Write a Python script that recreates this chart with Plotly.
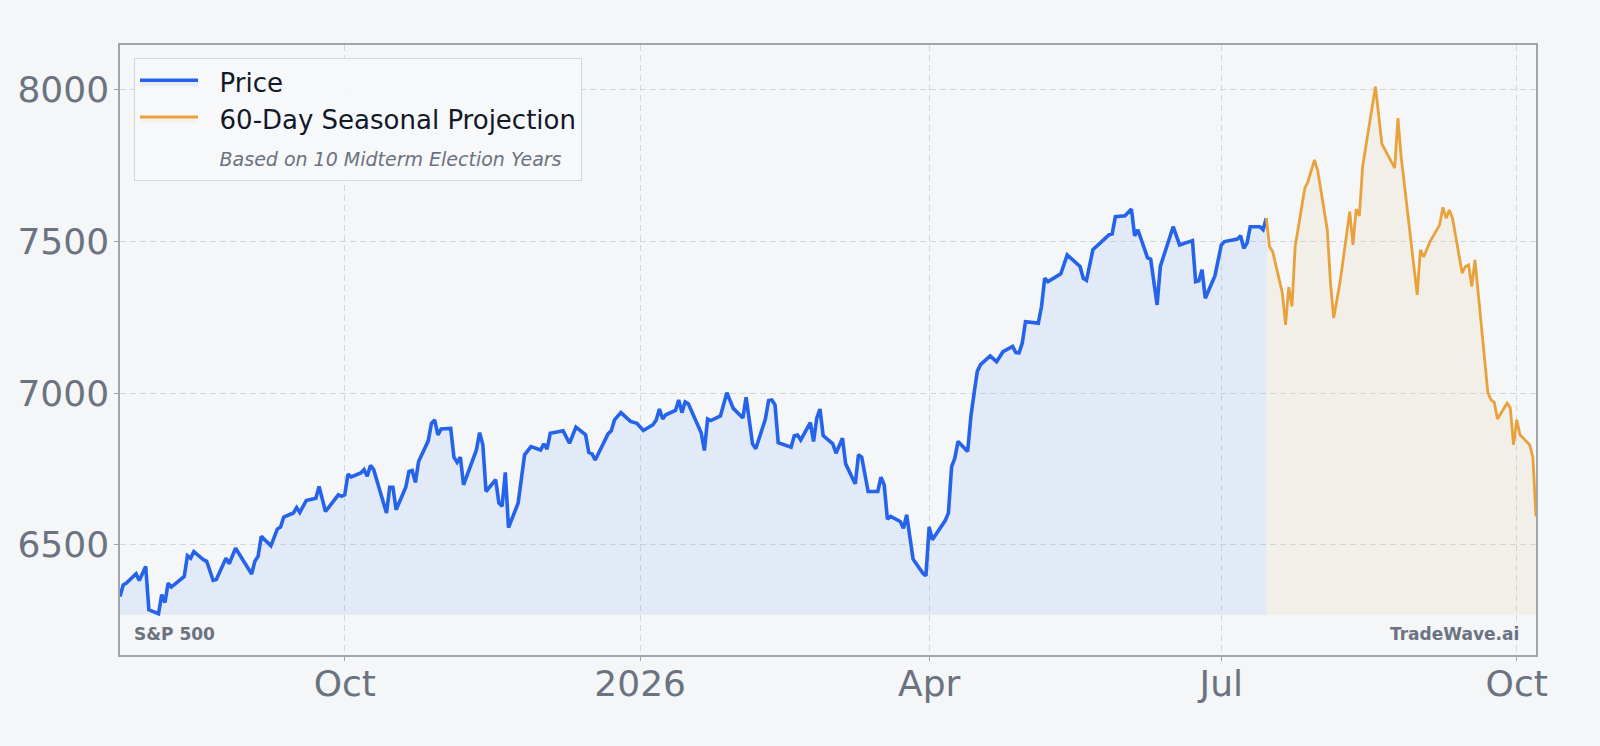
import plotly.graph_objects as go

price_dates = [
    "2025-07-23", "2025-07-24", "2025-07-25", "2025-07-28", "2025-07-29", "2025-07-31",
    "2025-08-01", "2025-08-04", "2025-08-05", "2025-08-06", "2025-08-07", "2025-08-08",
    "2025-08-12", "2025-08-13", "2025-08-14", "2025-08-15", "2025-08-18", "2025-08-19",
    "2025-08-21", "2025-08-22", "2025-08-25", "2025-08-26", "2025-08-28", "2025-09-02",
    "2025-09-03", "2025-09-04", "2025-09-05", "2025-09-08", "2025-09-10", "2025-09-11",
    "2025-09-12", "2025-09-15", "2025-09-16", "2025-09-17", "2025-09-19", "2025-09-22",
    "2025-09-23", "2025-09-25", "2025-09-29", "2025-09-30", "2025-10-01", "2025-10-02",
    "2025-10-03", "2025-10-06", "2025-10-07", "2025-10-08", "2025-10-09", "2025-10-10",
    "2025-10-14", "2025-10-15", "2025-10-16", "2025-10-17", "2025-10-20", "2025-10-21",
    "2025-10-22", "2025-10-23", "2025-10-24", "2025-10-27", "2025-10-28", "2025-10-29",
    "2025-10-30", "2025-10-31", "2025-11-03", "2025-11-04", "2025-11-05", "2025-11-06",
    "2025-11-07", "2025-11-11", "2025-11-12", "2025-11-13", "2025-11-14", "2025-11-17",
    "2025-11-18", "2025-11-19", "2025-11-20", "2025-11-21", "2025-11-24", "2025-11-26",
    "2025-11-28", "2025-12-01", "2025-12-02", "2025-12-03", "2025-12-04", "2025-12-08",
    "2025-12-10", "2025-12-12", "2025-12-15", "2025-12-16", "2025-12-17", "2025-12-18",
    "2025-12-22", "2025-12-23", "2025-12-24", "2025-12-26", "2025-12-29", "2025-12-31",
    "2026-01-02", "2026-01-05", "2026-01-06", "2026-01-07", "2026-01-08", "2026-01-09",
    "2026-01-12", "2026-01-13", "2026-01-14", "2026-01-15", "2026-01-16", "2026-01-20",
    "2026-01-21", "2026-01-22", "2026-01-23", "2026-01-26", "2026-01-28", "2026-01-30",
    "2026-02-02", "2026-02-03", "2026-02-05", "2026-02-06", "2026-02-09", "2026-02-10",
    "2026-02-11", "2026-02-12", "2026-02-13", "2026-02-17", "2026-02-18", "2026-02-19",
    "2026-02-20", "2026-02-23", "2026-02-24", "2026-02-25", "2026-02-26", "2026-02-27",
    "2026-03-02", "2026-03-03", "2026-03-05", "2026-03-06", "2026-03-09", "2026-03-10",
    "2026-03-11", "2026-03-13", "2026-03-16", "2026-03-17", "2026-03-18", "2026-03-19",
    "2026-03-20", "2026-03-23", "2026-03-24", "2026-03-25", "2026-03-27", "2026-03-30",
    "2026-03-31", "2026-04-01", "2026-04-02", "2026-04-06", "2026-04-07", "2026-04-08",
    "2026-04-09", "2026-04-10", "2026-04-13", "2026-04-14", "2026-04-15", "2026-04-16",
    "2026-04-17", "2026-04-20", "2026-04-22", "2026-04-24", "2026-04-27", "2026-04-28",
    "2026-04-29", "2026-04-30", "2026-05-01", "2026-05-05", "2026-05-06", "2026-05-07",
    "2026-05-08", "2026-05-12", "2026-05-14", "2026-05-18", "2026-05-19", "2026-05-20",
    "2026-05-22", "2026-05-27", "2026-05-28", "2026-05-29", "2026-06-01", "2026-06-03",
    "2026-06-04", "2026-06-05", "2026-06-08", "2026-06-09", "2026-06-11", "2026-06-12",
    "2026-06-16", "2026-06-18", "2026-06-22", "2026-06-23", "2026-06-24", "2026-06-25",
    "2026-06-26", "2026-06-29", "2026-07-01", "2026-07-02", "2026-07-06", "2026-07-07",
    "2026-07-08", "2026-07-09", "2026-07-10", "2026-07-13", "2026-07-14", "2026-07-15",
]
price_values = [
    6330, 6368, 6374, 6405, 6383, 6429,
    6286, 6273, 6336, 6310, 6374, 6361,
    6396, 6464, 6456, 6478, 6451, 6446,
    6383, 6386, 6456, 6438, 6489, 6404,
    6446, 6462, 6528, 6497, 6552, 6559,
    6592, 6605, 6623, 6607, 6646, 6654,
    6693, 6610, 6665, 6660, 6665, 6733,
    6724, 6737, 6748, 6726, 6762, 6748,
    6605, 6690, 6690, 6616, 6690, 6742,
    6745, 6706, 6775, 6843, 6901, 6912,
    6863, 6882, 6884, 6789, 6772, 6789,
    6698, 6813, 6870, 6830, 6676, 6715,
    6638, 6627, 6739, 6557, 6638, 6797,
    6824, 6813, 6833, 6816, 6868, 6876,
    6835, 6888, 6863, 6805, 6800, 6780,
    6866, 6876, 6912, 6936, 6907, 6901,
    6877, 6896, 6912, 6948, 6915, 6929,
    6943, 6978, 6936, 6971, 6965, 6870,
    6811, 6915, 6910, 6925, 7002, 6950,
    6918, 6987, 6833, 6817, 6915, 6976,
    6978, 6962, 6837, 6822, 6860, 6862,
    6846, 6903, 6841, 6918, 6948, 6860,
    6833, 6802, 6852, 6767, 6701, 6797,
    6789, 6676, 6676, 6723, 6698, 6585,
    6594, 6577, 6555, 6599, 6453, 6407,
    6398, 6559, 6517, 6580, 6605, 6758,
    6786, 6841, 6808, 6923, 7000, 7072,
    7094, 7123, 7104, 7137, 7154, 7134,
    7133, 7165, 7236, 7231, 7286, 7379,
    7368, 7394, 7456, 7418, 7379, 7372,
    7473, 7522, 7525, 7582, 7585, 7607,
    7519, 7539, 7447, 7442, 7291, 7418,
    7549, 7489, 7503, 7368, 7371, 7407,
    7313, 7387, 7489, 7500, 7508, 7519,
    7478, 7495, 7549, 7549, 7539, 7577,
]

proj_dates = [
    "2026-07-15", "2026-07-16", "2026-07-17", "2026-07-20", "2026-07-21", "2026-07-22",
    "2026-07-23", "2026-07-24", "2026-07-27", "2026-07-28", "2026-07-30", "2026-07-31",
    "2026-08-03", "2026-08-04", "2026-08-05", "2026-08-07", "2026-08-10", "2026-08-11",
    "2026-08-12", "2026-08-13", "2026-08-14", "2026-08-18", "2026-08-20", "2026-08-24",
    "2026-08-25", "2026-08-26", "2026-08-31", "2026-09-01", "2026-09-02", "2026-09-04",
    "2026-09-07", "2026-09-08", "2026-09-09", "2026-09-10", "2026-09-11", "2026-09-14",
    "2026-09-15", "2026-09-16", "2026-09-17", "2026-09-18", "2026-09-22", "2026-09-23",
    "2026-09-24", "2026-09-25", "2026-09-28", "2026-09-29", "2026-09-30", "2026-10-01",
    "2026-10-02", "2026-10-05", "2026-10-06", "2026-10-07",
]
proj_values = [
    7577, 7484, 7467, 7330, 7225, 7350,
    7286, 7484, 7676, 7698, 7769, 7734,
    7539, 7363, 7248, 7368, 7599, 7489,
    7607, 7585, 7747, 8011, 7822, 7742,
    7907, 7780, 7324, 7473, 7449, 7500,
    7555, 7613, 7577, 7604, 7577, 7396,
    7418, 7423, 7352, 7440, 7002, 6978,
    6970, 6915, 6967, 6951, 6830, 6912,
    6863, 6830, 6791, 6594,
]

fill_base = 6270
y_range = [6137, 8148]
x_range = ["2025-07-23", "2026-10-07"]
x_tick_vals = ["2025-10-01", "2026-01-01", "2026-04-01", "2026-07-01", "2026-10-01"]
x_tick_text = ["Oct", "2026", "Apr", "Jul", "Oct"]
y_tick_vals = [6500, 7000, 7500, 8000]

BG = "#f4f6f8"
BLUE = "#2563eb"
ORANGE = "#e9a23b"
GREY = "#6b7280"
FONT = "DejaVu Sans"
GRID = "#d3d7dd"
GAP = "\u00a0\u00a0"

fig = go.Figure()

fig.add_trace(go.Scatter(
    x=price_dates, y=[fill_base] * len(price_dates), mode="lines",
    line=dict(width=0, color="rgba(0,0,0,0)"), showlegend=False, hoverinfo="skip"))
fig.add_trace(go.Scatter(
    x=price_dates, y=price_values, mode="lines", name=GAP + "Price",
    line=dict(color=BLUE, width=3.6), fill="tonexty",
    fillcolor="rgba(37,120,235,0.09)"))

fig.add_trace(go.Scatter(
    x=proj_dates, y=[fill_base] * len(proj_dates), mode="lines",
    line=dict(width=0, color="rgba(0,0,0,0)"), showlegend=False, hoverinfo="skip"))
fig.add_trace(go.Scatter(
    x=proj_dates, y=proj_values, mode="lines", name=GAP + "60-Day Seasonal Projection",
    line=dict(color=ORANGE, width=2.8), fill="tonexty",
    fillcolor="rgba(233,162,59,0.08)"))

fig.add_trace(go.Scatter(
    x=[None], y=[None], mode="lines",
    line=dict(color="rgba(0,0,0,0)", width=0),
    name=GAP + "<span style='font-size:19px;color:#6b7280'><i>Based on 10 Midterm Election Years</i></span>"))

axis_common = dict(
    tickfont=dict(family=FONT, size=36, color=GREY),
    ticks="outside", ticklen=4, tickcolor="#9ca3af",
    showgrid=True, gridcolor=GRID, griddash="6px,4px", gridwidth=1,
    showline=True, linecolor="#a0a5ad", linewidth=1.5, mirror=True,
    zeroline=False,
)

fig.update_layout(
    width=1600, height=746,
    paper_bgcolor=BG, plot_bgcolor=BG,
    margin=dict(l=120, r=64, t=45, b=91),
    font=dict(family=FONT, color=GREY),
    showlegend=True,
    legend=dict(
        x=0.0099, y=0.979, xanchor="left", yanchor="top",
        bgcolor="rgba(247,248,250,0.9)", bordercolor="#d3d7dc", borderwidth=1,
        font=dict(family=FONT, size=26, color="#111827"),
        itemwidth=58, traceorder="normal",
    ),
    xaxis=dict(
        type="date", range=x_range,
        tickvals=x_tick_vals, ticktext=x_tick_text,
        ticklabelstandoff=-8,
        **axis_common,
    ),
    yaxis=dict(
        range=y_range, tickvals=y_tick_vals,
        ticklabelstandoff=-2,
        **axis_common,
    ),
    annotations=[
        dict(text="<b>S&P 500</b>", xref="paper", yref="paper", x=0.0085, y=0.034,
             xanchor="left", yanchor="middle", showarrow=False,
             font=dict(family=FONT, size=17, color=GREY)),
        dict(text="<b>TradeWave.ai</b>", xref="paper", yref="paper", x=0.9894, y=0.035,
             xanchor="right", yanchor="middle", showarrow=False,
             font=dict(family=FONT, size=17, color=GREY)),
    ],
)

fig.write_html("out.html")
